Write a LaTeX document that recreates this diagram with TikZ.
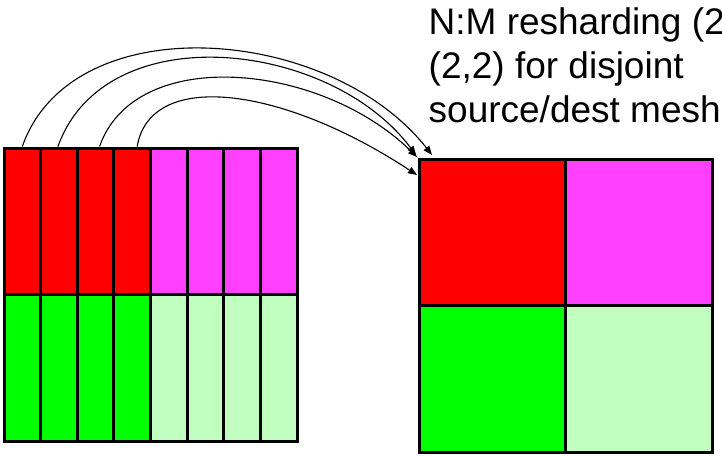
\documentclass[tikz,border=0pt]{standalone}
\usepackage{fontspec}
\setmainfont{Liberation Sans}
\usetikzlibrary{arrows.meta}
\definecolor{cRed}{HTML}{FF0000}
\definecolor{cMag}{HTML}{FF40FF}
\definecolor{cGrn}{HTML}{00FF00}
\definecolor{cLgt}{HTML}{C0FFC0}
\begin{document}
\begin{tikzpicture}[x=1pt,y=-1pt,
  cell/.style={draw=black, line width=3pt, inner sep=0pt, outer sep=0pt, anchor=north west},
  link/.style={line width=1.1pt, -{Triangle[length=9pt,width=7pt]}},
  caption/.style={anchor=base west, inner sep=0pt, font=\fontsize{37}{44}\selectfont}]
\useasboundingbox (0,0) rectangle (722,455);

% source mesh: 8 column shards, two rows
\foreach \c/\up/\dn in {1/cRed/cGrn,2/cRed/cGrn,3/cRed/cGrn,4/cRed/cGrn,
                        5/cMag/cLgt,6/cMag/cLgt,7/cMag/cLgt,8/cMag/cLgt}{
  \node[cell, fill=\up, minimum width=36.625pt, minimum height=146.5pt]
    (s-1-\c) at ({4+(\c-1)*36.625},148) {};
  \node[cell, fill=\dn, minimum width=36.625pt, minimum height=146.5pt]
    (s-2-\c) at ({4+(\c-1)*36.625},294.5) {};
}

% destination mesh: 2x2 blocks
\node[cell, fill=cRed, minimum width=146.5pt, minimum height=146.5pt] (d-1-1) at (419,159) {};
\node[cell, fill=cMag, minimum width=146.5pt, minimum height=146.5pt] (d-1-2) at (565.5,159) {};
\node[cell, fill=cGrn, minimum width=146.5pt, minimum height=146.5pt] (d-2-1) at (419,305.5) {};
\node[cell, fill=cLgt, minimum width=146.5pt, minimum height=146.5pt] (d-2-2) at (565.5,305.5) {};

% caption
\node[caption] (cap1) at (428.5,34.3) {N:M resharding (2};
\node[caption] (cap2) at (428.5,78.5) {(2,2) for disjoint};
\node[caption] (cap3) at (428.5,122.3) {source/dest mesh};

% transfers of the red shards into the destination block
\draw[link] ([shift={(0,-1.5)}]s-1-1.north) .. controls (72,5) and (330,25) .. ([shift={(13,-4)}]d-1-1.north west);
\draw[link] ([shift={(-1,-1.5)}]s-1-2.north) .. controls (105,15) and (330,40) .. ([shift={(-3,-4)}]d-1-1.north west);
\draw[link] ([shift={(4,-1.5)}]s-1-3.north) .. controls (135,45) and (320,62) .. ([shift={(-2,-2)}]d-1-1.north west);
\draw[link] ([shift={(5,-1.5)}]s-1-4.north) .. controls (150,70) and (280,85) .. ([shift={(-2,16)}]d-1-1.north west);
\end{tikzpicture}
\end{document}
